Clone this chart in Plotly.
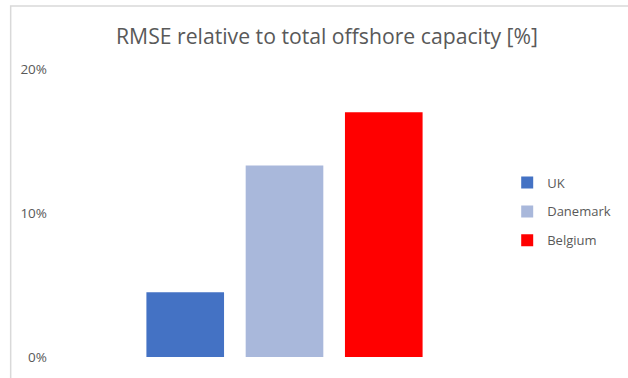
import plotly.graph_objects as go

categories = [""]
series_names = ["UK", "Danemark", "Belgium"]
series_values = [[4.5], [13.3], [17.0]]
series_colors = ["#4472C4", "#A9B8DB", "#FF0000"]
y_tick_vals = [0, 10, 20]
y_tick_text = ["0%", "10%", "20%"]

W, H = 628, 378
L, R, T, B = 50, 101, 69, 16

fig = go.Figure()
for i, (name, vals, col) in enumerate(zip(series_names, series_values, series_colors)):
    fig.add_trace(go.Bar(
        x=categories, y=vals, name=name, marker_color=col,
        marker_line_width=0, legendgroup=name,
    ))

pw = W - L - R
ph = H - T - B

def px_x(x):
    return (x - L) / pw

def px_y(y):
    return (H - B - y) / ph

fig.update_layout(
    width=W, height=H,
    margin=dict(l=L, r=R, t=T, b=B, pad=0),
    paper_bgcolor="white", plot_bgcolor="white",
    barmode="group", bargap=0.365, bargroupgap=0.218,
    title=dict(text="RMSE relative to total offshore capacity [%]",
               font=dict(family="Open Sans", size=21.2, color="#595959"),
               x=327 / W, xanchor="center", y=1 - 37 / H, yanchor="middle"),
    showlegend=True,
    legend=dict(x=px_x(515), xanchor="left", y=px_y(214), yanchor="middle",
                font=dict(family="Open Sans", size=13, color="#595959"),
                tracegroupgap=9, traceorder="grouped", bgcolor="rgba(0,0,0,0)"),
    xaxis=dict(showticklabels=False, showline=False, showgrid=False, zeroline=False),
    yaxis=dict(range=[0, 20], tickvals=y_tick_vals, ticktext=y_tick_text,
               showgrid=False, zeroline=False, showline=False,
               tickfont=dict(family="Open Sans", size=13.5, color="#595959"),
               ticklabelstandoff=2),
    shapes=[dict(type="rect", xref="paper", yref="paper",
                 x0=px_x(10), x1=px_x(W + 20), y0=px_y(H + 20), y1=px_y(5),
                 line=dict(color="#D9D9D9", width=1.5), fillcolor="rgba(0,0,0,0)",
                 layer="below")],
)

fig.write_html("out.html", config={"displayModeBar": False})

with open("out.html", "r", encoding="utf-8") as f:
    html = f.read()
html = html.replace("<head>", "<head><style>html,body{margin:0;padding:0;overflow:hidden;}</style>", 1)
with open("out.html", "w", encoding="utf-8") as f:
    f.write(html)
